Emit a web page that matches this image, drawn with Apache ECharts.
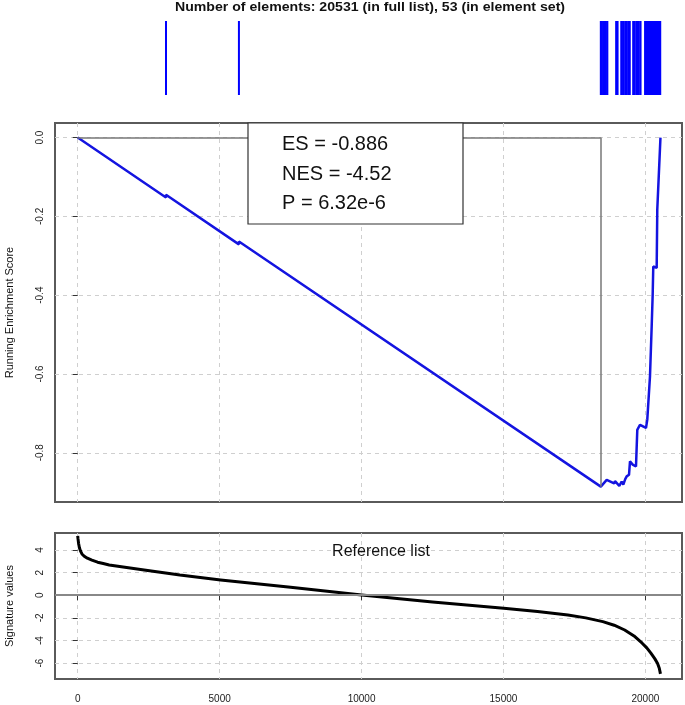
<!DOCTYPE html>
<html><head><meta charset="utf-8">
<script src="https://cdn.jsdelivr.net/npm/echarts@6/dist/echarts.min.js"></script>
<style>html,body{margin:0;padding:0;background:#fff}#c{width:685px;height:705px}</style>
</head><body><div id="c"></div>
<script>
// ---- data ----
const titleText = 'Number of elements: 20531 (in full list), 53 (in element set)';
const hitPositions = [3110, 5680,
  18430, 18470, 18520, 18560, 18610, 18660,
  18970, 19020,
  19150, 19175, 19240, 19300, 19345, 19400, 19450,
  19570, 19620, 19680, 19720, 19770, 19830,
  19990, 20008, 20026, 20045, 20063, 20082, 20100, 20118, 20137, 20155,
  20174, 20192, 20210, 20229, 20247, 20266, 20284, 20302, 20321, 20339,
  20358, 20376, 20394, 20413, 20431, 20450, 20468, 20486, 20505, 20523];
const esX = [0, 3110, 3110, 5680, 5680, 18430, 18637, 18900, 18930, 19081, 19165, 19222, 19290, 19341, 19423, 19458, 19553, 19669, 19715, 19810, 20021, 20067, 20162, 20222, 20257, 20278, 20398, 20419, 20531];
const esY = [0, -0.152, -0.145, -0.271, -0.264, -0.886, -0.869, -0.878, -0.872, -0.884, -0.873, -0.881, -0.867, -0.860, -0.856, -0.822, -0.830, -0.835, -0.742, -0.729, -0.737, -0.716, -0.606, -0.479, -0.399, -0.327, -0.331, -0.183, 0];
const esPosition = 18430;
const esValue = -0.886;
const sigX = [0, 10, 30, 60, 100, 150, 230, 340, 500, 700, 900, 1110, 1600, 2340, 3600, 5035, 7500, 10005, 12500, 15008, 16200, 17270, 17900, 18500, 18900, 19270, 19600, 19887, 20050, 20194, 20330, 20426, 20490, 20531];
const sigY = [5.25, 5.0, 4.6, 4.2, 3.9, 3.65, 3.45, 3.27, 3.1, 2.92, 2.8, 2.68, 2.5, 2.23, 1.78, 1.35, 0.7, 0.02, -0.6, -1.15, -1.43, -1.74, -2.0, -2.33, -2.65, -3.07, -3.6, -4.24, -4.65, -5.12, -5.6, -6.0, -6.45, -6.95];
const xTicks = [0, 5000, 10000, 15000, 20000];
const esTicks = [0, -0.2, -0.4, -0.6, -0.8];
const sigTicks = [4, 2, 0, -2, -4, -6];
const statLines = ['ES = -0.886', 'NES = -4.52', 'P = 6.32e-6'];
const esAxisName = 'Running Enrichment Score';
const sigAxisName = 'Signature values';
const refLabel = 'Reference list';

// ---- chart ----
const FONT = 'Liberation Sans, Arial, sans-serif';
const chart = echarts.init(document.getElementById('c'), null, {renderer: 'canvas'});
const X_MIN = -800, X_MAX = 21290;
const gridDash = {show: true, lineStyle: {color: '#cfcfcf', type: [4, 4], width: 1}};
const border = {show: true, borderColor: '#5a5a5a', borderWidth: 2, backgroundColor: 'transparent'};
const gridBase = {left: 55, width: 627, containLabel: false, outerBoundsMode: 'none'};

const option = {
  animation: false,
  backgroundColor: '#fff',
  textStyle: {fontFamily: FONT},
  grid: [
    Object.assign({top: 21, height: 74, show: false}, gridBase),
    Object.assign({top: 123, height: 379}, gridBase, border),
    Object.assign({top: 533, height: 146}, gridBase, border)
  ],
  xAxis: [
    {type: 'value', gridIndex: 0, min: X_MIN, max: X_MAX, show: false},
    {type: 'value', gridIndex: 1, min: X_MIN, max: X_MAX,
      axisLine: {show: false}, axisTick: {show: false, customValues: xTicks},
      axisLabel: {show: false, customValues: xTicks}, splitLine: gridDash},
    {type: 'value', gridIndex: 2, min: X_MIN, max: X_MAX,
      axisLine: {show: false},
      axisTick: {show: true, customValues: xTicks, length: 5, lineStyle: {color: '#333'}},
      axisLabel: {show: true, customValues: xTicks, margin: 15, fontSize: 10, color: '#222', fontFamily: FONT,
        formatter: v => String(v)},
      splitLine: gridDash}
  ],
  yAxis: [
    {type: 'value', gridIndex: 0, min: 0, max: 1, show: false},
    {type: 'value', gridIndex: 1, min: -0.925, max: 0.037,
      axisLine: {show: false},
      axisTick: {show: true, customValues: esTicks, length: 5, lineStyle: {color: '#333'}},
      axisLabel: {show: true, customValues: esTicks, rotate: 90, margin: 10, fontSize: 10, color: '#222', fontFamily: FONT,
        formatter: v => v.toFixed(1)},
      splitLine: gridDash,
      name: esAxisName, nameLocation: 'middle', nameRotate: 90, nameGap: 40,
      nameTextStyle: {fontSize: 11, color: '#111', fontFamily: FONT}},
    {type: 'value', gridIndex: 2, min: -7.4, max: 5.5,
      axisLine: {show: false},
      axisTick: {show: true, customValues: sigTicks, length: 5, lineStyle: {color: '#333'}},
      axisLabel: {show: true, customValues: sigTicks, rotate: 90, margin: 10, fontSize: 10, color: '#222', fontFamily: FONT},
      splitLine: gridDash,
      name: sigAxisName, nameLocation: 'middle', nameRotate: 90, nameGap: 40,
      nameTextStyle: {fontSize: 11, color: '#111', fontFamily: FONT}}
  ],
  series: [
    {type: 'custom', xAxisIndex: 0, yAxisIndex: 0,
      data: hitPositions.map(v => [v]),
      encode: {x: 0},
      renderItem: (params, api) => {
        const x = api.value(0);
        const p0 = api.coord([x, 0]);
        const p1 = api.coord([x, 1]);
        return {type: 'line', shape: {x1: p0[0], y1: p0[1], x2: p1[0], y2: p1[1]},
          style: {stroke: '#0000ff', lineWidth: 2}};
      }},
    {type: 'line', xAxisIndex: 1, yAxisIndex: 1, z: 1, data: [],
      markLine: {silent: true, symbol: ['none', 'none'], label: {show: false},
        lineStyle: {color: '#777', type: 'solid', width: 1.5},
        data: [
          [{coord: [0, 0]}, {coord: [esPosition, 0]}],
          [{coord: [esPosition, 0]}, {coord: [esPosition, esValue]}]
        ]}},
    {type: 'line', xAxisIndex: 1, yAxisIndex: 1, z: 3, showSymbol: false, symbol: 'none',
      data: esX.map((x, i) => [x, esY[i]]),
      lineStyle: {color: '#1414e0', width: 2.5}},
    {type: 'line', xAxisIndex: 2, yAxisIndex: 2, z: 1, data: [],
      markLine: {silent: true, symbol: ['none', 'none'], label: {show: false},
        lineStyle: {color: '#888', type: 'solid', width: 2},
        data: [{yAxis: 0}]}},
    {type: 'line', xAxisIndex: 2, yAxisIndex: 2, z: 3, showSymbol: false, symbol: 'none',
      data: sigX.map((x, i) => [x, sigY[i]]),
      lineStyle: {color: '#000', width: 3, join: 'round'}}
  ],
  graphic: [
    {type: 'text', x: 370, y: 8, z: 50, scaleX: 1.13,
      style: {text: titleText, fontSize: 12.5, fontWeight: 'bold', fontFamily: FONT, fill: '#111', align: 'center', verticalAlign: 'middle'}},
    {type: 'text', x: 381, y: 552, z: 50,
      style: {text: refLabel, fontSize: 16, fontFamily: FONT, fill: '#111', align: 'center', verticalAlign: 'middle'}},
    {type: 'rect', z: 100, shape: {x: 248, y: 123, width: 215, height: 101},
      style: {fill: '#fff', stroke: '#333', lineWidth: 1.2}},
    {type: 'text', x: 282, y: 144, z: 101,
      style: {text: statLines[0], fontSize: 20, fontFamily: FONT, fill: '#111', align: 'left', verticalAlign: 'middle'}},
    {type: 'text', x: 282, y: 174, z: 101,
      style: {text: statLines[1], fontSize: 20, fontFamily: FONT, fill: '#111', align: 'left', verticalAlign: 'middle'}},
    {type: 'text', x: 282, y: 203, z: 101,
      style: {text: statLines[2], fontSize: 20, fontFamily: FONT, fill: '#111', align: 'left', verticalAlign: 'middle'}}
  ]
};
chart.setOption(option);
</script>
</body></html>
